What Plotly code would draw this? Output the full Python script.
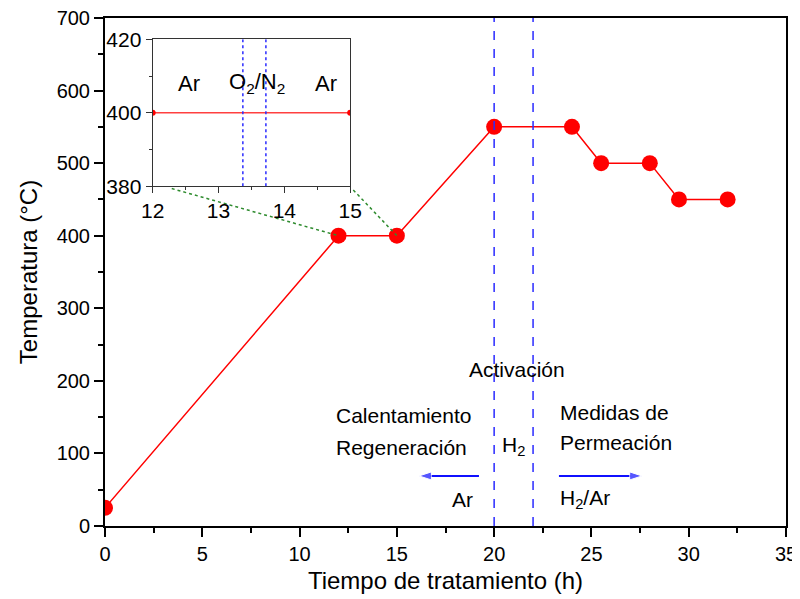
import plotly.graph_objects as go

# Main series
time_h = [0, 12, 15, 20, 24, 25.5, 28, 29.5, 32]
temp_c = [25, 400, 400, 550, 550, 500, 500, 450, 450]

# Inset series
inset_time = [12, 15]
inset_temp = [400, 400]

# Reference lines
activation_lines = [20, 22]
inset_gas_lines = [13.37, 13.72]

# Zoom connectors (main data coords): start -> end
zoom_from_x = [3.43, 12.76]
zoom_from_y = [465, 463]
zoom_to_x = [12, 15]
zoom_to_y = [400, 400]

# Flow arrows (main data coords): tail -> head
arrow_tail_x = [19.22, 23.33]
arrow_head_x = [16.14, 27.6]
arrow_y = [69, 69]

FONT = "Liberation Sans, Arial, sans-serif"
RED = "#ff0000"
BLUE = "#2a2aff"
ARROW_BLUE = "#1010ff"

fig = go.Figure()

fig.add_trace(go.Scatter(
    x=time_h, y=temp_c, mode="lines+markers",
    line=dict(color=RED, width=1.5),
    marker=dict(color=RED, size=16),
    cliponaxis=True,
    showlegend=False, xaxis="x", yaxis="y"))

fig.add_trace(go.Scatter(
    x=inset_time, y=inset_temp, mode="lines+markers",
    line=dict(color="#ff4040", width=1.5),
    marker=dict(color=RED, size=6),
    showlegend=False, xaxis="x2", yaxis="y2"))

# Zoom connectors
for x0, y0, x1, y1 in zip(zoom_from_x, zoom_from_y, zoom_to_x, zoom_to_y):
    fig.add_trace(go.Scatter(
        x=[x0, x1], y=[y0, y1], mode="lines",
        line=dict(color="#2e8b2e", width=1.5, dash="dot"),
        showlegend=False, hoverinfo="skip", xaxis="x", yaxis="y"))

# Arrows
for xt, xh, ya in zip(arrow_tail_x, arrow_head_x, arrow_y):
    fig.add_trace(go.Scatter(
        x=[xt, xh], y=[ya, ya], mode="lines+markers",
        line=dict(color=ARROW_BLUE, width=2),
        marker=dict(symbol="arrow", size=[0, 13], angleref="previous", color=ARROW_BLUE),
        showlegend=False, hoverinfo="skip", xaxis="x", yaxis="y"))

shapes = []
for xv in activation_lines:
    shapes.append(dict(type="line", xref="x", yref="y", x0=xv, x1=xv, y0=0, y1=700,
                       line=dict(color=BLUE, width=1.5, dash="dash"), layer="above"))
for xv in inset_gas_lines:
    shapes.append(dict(type="line", xref="x2", yref="y2", x0=xv, x1=xv, y0=380, y1=420,
                       line=dict(color=BLUE, width=1.5, dash="dot"), layer="above"))

annotations = []
def txt(x, y, s, xanchor="center", xref="x", yref="y", size=21):
    annotations.append(dict(x=x, y=y, xref=xref, yref=yref, text=s, showarrow=False,
                            xanchor=xanchor, yanchor="middle",
                            font=dict(family=FONT, size=size, color="black")))

txt(21.15, 215, "Activación")
txt(11.78, 152, "Calentamiento", xanchor="left")
txt(11.78, 108, "Regeneración", xanchor="left")
txt(21.0, 110, "H<sub>2</sub>")
txt(23.3, 157, "Medidas de", xanchor="left")
txt(23.3, 115, "Permeación", xanchor="left")
txt(18.37, 37, "Ar")
txt(23.3, 37, "H<sub>2</sub>/Ar", xanchor="left")

txt(12.55, 408, "Ar", xref="x2", yref="y2", size=22)
txt(13.59, 408, "O<sub>2</sub>/N<sub>2</sub>", xref="x2", yref="y2", size=22)
txt(14.63, 408, "Ar", xref="x2", yref="y2", size=22)

fig.update_layout(
    width=792, height=591,
    margin=dict(l=97, r=14, t=10, b=73, autoexpand=False),
    paper_bgcolor="white", plot_bgcolor="white",
    font=dict(family=FONT, size=20, color="black"),
    shapes=shapes, annotations=annotations,
    xaxis=dict(range=[0, 35], dtick=5, tick0=0, showgrid=False, zeroline=False,
               automargin=False, ticklabeloverflow="allow",
               showline=True, linecolor="black", linewidth=2, mirror=True,
               ticks="outside", ticklen=9, tickwidth=1.5, tickcolor="black",
               minor=dict(dtick=2.5, ticks="outside", ticklen=5, tickwidth=1.5, tickcolor="black"),
               tickfont=dict(size=20),
               title=dict(text="Tiempo de tratamiento (h)", font=dict(size=24), standoff=8)),
    yaxis=dict(range=[0, 700], dtick=100, tick0=0, showgrid=False, zeroline=False,
               automargin=False, ticklabeloverflow="allow",
               showline=True, linecolor="black", linewidth=2, mirror=True,
               ticks="outside", ticklen=9, tickwidth=1.5, tickcolor="black",
               minor=dict(dtick=50, ticks="outside", ticklen=5, tickwidth=1.5, tickcolor="black"),
               tickfont=dict(size=20),
               title=dict(text="Temperatura (°C)", font=dict(size=24), standoff=12)),
    xaxis2=dict(domain=[0.070, 0.360], anchor="y2", range=[12, 15], dtick=1,
                automargin=False, ticklabeloverflow="allow",
                showgrid=False, zeroline=False, showline=True, linecolor="#333333",
                linewidth=1.2, mirror=True, ticks="outside", ticklen=6, tickwidth=1,
                tickcolor="#333333",
                minor=dict(dtick=0.5, ticks="outside", ticklen=3, tickwidth=1, tickcolor="#333333"),
                tickfont=dict(size=21)),
    yaxis2=dict(domain=[0.669, 0.958], anchor="x2", range=[380, 420], dtick=20,
                automargin=False, ticklabeloverflow="allow",
                showgrid=False, zeroline=False, showline=True, linecolor="#333333",
                linewidth=1.2, mirror=True, ticks="outside", ticklen=6, tickwidth=1,
                tickcolor="#333333",
                minor=dict(dtick=10, ticks="outside", ticklen=3, tickwidth=1, tickcolor="#333333"),
                tickfont=dict(size=21)),
)

fig.write_html("out.html")
